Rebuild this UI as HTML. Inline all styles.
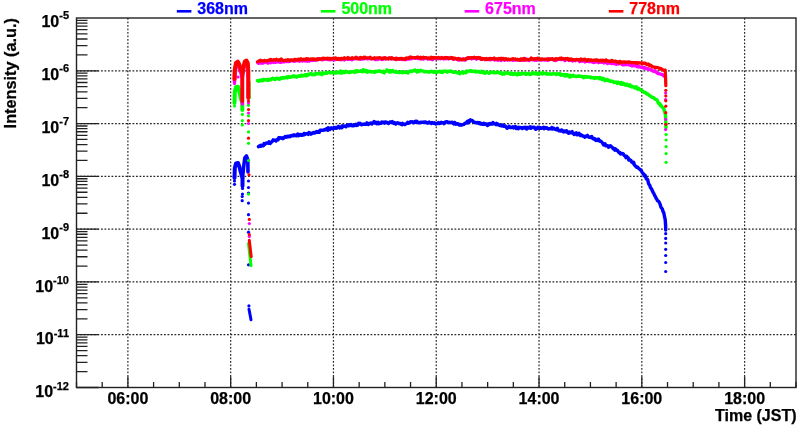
<!DOCTYPE html><html><head><meta charset="utf-8"><style>html,body{margin:0;padding:0;background:#fff;}svg{display:block;will-change:transform;}text{font-family:"Liberation Sans",sans-serif;font-weight:bold;font-size:16px;stroke:#000;stroke-width:.25px;}</style></head><body>
<svg width="800" height="427" viewBox="0 0 800 427">
<rect width="800" height="427" fill="#fff"/>
<path d="M127.89 18.0V387.5M230.68 18.0V387.5M333.46 18.0V387.5M436.25 18.0V387.5M539.04 18.0V387.5M641.82 18.0V387.5M744.61 18.0V387.5M76.5 70.79H796.0M76.5 123.57H796.0M76.5 176.36H796.0M76.5 229.14H796.0M76.5 281.93H796.0M76.5 334.71H796.0" stroke="#000" stroke-width="1.2" stroke-dasharray="1.8 1.7" fill="none" opacity="0.85"/>
<path d="M76.50 387.5V382.00M102.20 387.5V382.00M127.89 387.5V376.50M153.59 387.5V382.00M179.29 387.5V382.00M204.98 387.5V382.00M230.68 387.5V376.50M256.38 387.5V382.00M282.07 387.5V382.00M307.77 387.5V382.00M333.46 387.5V376.50M359.16 387.5V382.00M384.86 387.5V382.00M410.55 387.5V382.00M436.25 387.5V376.50M461.95 387.5V382.00M487.64 387.5V382.00M513.34 387.5V382.00M539.04 387.5V376.50M564.73 387.5V382.00M590.43 387.5V382.00M616.12 387.5V382.00M641.82 387.5V376.50M667.52 387.5V382.00M693.21 387.5V382.00M718.91 387.5V382.00M744.61 387.5V376.50M770.30 387.5V382.00M796.00 387.5V382.00M76.5 387.50H98.50M76.5 371.61H87.50M76.5 362.31H87.50M76.5 355.72H87.50M76.5 350.60H87.50M76.5 346.42H87.50M76.5 342.89H87.50M76.5 339.83H87.50M76.5 337.13H87.50M76.5 334.71H98.50M76.5 318.82H87.50M76.5 309.53H87.50M76.5 302.93H87.50M76.5 297.82H87.50M76.5 293.64H87.50M76.5 290.11H87.50M76.5 287.04H87.50M76.5 284.34H87.50M76.5 281.93H98.50M76.5 266.04H87.50M76.5 256.74H87.50M76.5 250.15H87.50M76.5 245.03H87.50M76.5 240.85H87.50M76.5 237.32H87.50M76.5 234.26H87.50M76.5 231.56H87.50M76.5 229.14H98.50M76.5 213.25H87.50M76.5 203.96H87.50M76.5 197.36H87.50M76.5 192.25H87.50M76.5 188.07H87.50M76.5 184.53H87.50M76.5 181.47H87.50M76.5 178.77H87.50M76.5 176.36H98.50M76.5 160.47H87.50M76.5 151.17H87.50M76.5 144.58H87.50M76.5 139.46H87.50M76.5 135.28H87.50M76.5 131.75H87.50M76.5 128.69H87.50M76.5 125.99H87.50M76.5 123.57H98.50M76.5 107.68H87.50M76.5 98.39H87.50M76.5 91.79H87.50M76.5 86.68H87.50M76.5 82.50H87.50M76.5 78.96H87.50M76.5 75.90H87.50M76.5 73.20H87.50M76.5 70.79H98.50M76.5 54.90H87.50M76.5 45.60H87.50M76.5 39.01H87.50M76.5 33.89H87.50M76.5 29.71H87.50M76.5 26.18H87.50M76.5 23.12H87.50M76.5 20.42H87.50" stroke="#222" stroke-width="1.3" fill="none"/>
<rect x="76.5" y="18.0" width="719.5" height="369.5" stroke="#222" stroke-width="1.4" fill="none"/>
<text x="127.89" y="404" text-anchor="middle">06:00</text>
<text x="230.68" y="404" text-anchor="middle">08:00</text>
<text x="333.46" y="404" text-anchor="middle">10:00</text>
<text x="436.25" y="404" text-anchor="middle">12:00</text>
<text x="539.04" y="404" text-anchor="middle">14:00</text>
<text x="641.82" y="404" text-anchor="middle">16:00</text>
<text x="744.61" y="404" text-anchor="middle">18:00</text>
<text x="796.5" y="420.6" text-anchor="end">Time (JST)</text>
<text x="69" y="26.90" text-anchor="end">10<tspan font-size="11" dy="-7.6">-5</tspan></text>
<text x="69" y="79.83" text-anchor="end">10<tspan font-size="11" dy="-7.6">-6</tspan></text>
<text x="69" y="132.75" text-anchor="end">10<tspan font-size="11" dy="-7.6">-7</tspan></text>
<text x="69" y="185.68" text-anchor="end">10<tspan font-size="11" dy="-7.6">-8</tspan></text>
<text x="69" y="238.60" text-anchor="end">10<tspan font-size="11" dy="-7.6">-9</tspan></text>
<text x="69" y="291.53" text-anchor="end">10<tspan font-size="11" dy="-7.6">-10</tspan></text>
<text x="69" y="344.45" text-anchor="end">10<tspan font-size="11" dy="-7.6">-11</tspan></text>
<text x="69" y="397.38" text-anchor="end">10<tspan font-size="11" dy="-7.6">-12</tspan></text>
<text transform="translate(16.2,18) rotate(-90)" text-anchor="end" style="font-size:16.3px">Intensity (a.u.)</text>
<path d="M176.8 11.3H191.4" stroke="#0000ff" stroke-width="2.6"/>
<text x="197.3" y="14.2" fill="#0000ff" style="stroke:#0000ff">368nm</text>
<path d="M320.9 11.3H335.5" stroke="#00ff00" stroke-width="2.6"/>
<text x="341.4" y="14.2" fill="#00ff00" style="stroke:#00ff00">500nm</text>
<path d="M464.6 11.3H479.20000000000005" stroke="#ff00ff" stroke-width="2.6"/>
<text x="485.1" y="14.2" fill="#ff00ff" style="stroke:#ff00ff">675nm</text>
<path d="M608.8 11.3H623.4" stroke="#ff0000" stroke-width="2.6"/>
<text x="629.3" y="14.2" fill="#ff0000" style="stroke:#ff0000">778nm</text>
<path d="M258.5 146.7 L259.2 145.9 L259.9 146.2 L260.6 145.3 L261.3 146.2 L262.0 145.3 L262.7 145.9 L263.4 145.8 L264.1 143.6 L264.8 144.5 L265.5 143.7 L266.2 143.0 L266.9 143.1 L267.6 143.0 L268.3 143.3 L269.0 141.7 L269.7 143.1 L270.4 143.4 L271.1 142.3 L271.8 141.8 L272.5 141.1 L273.2 139.9 L273.9 140.4 L274.6 140.1 L275.3 140.3 L276.0 141.0 L276.7 139.7 L277.4 139.4 L278.1 139.8 L278.8 137.8 L279.5 137.7 L280.2 138.1 L280.9 137.8 L281.6 138.3 L282.3 137.7 L283.0 138.6 L283.7 138.1 L284.4 137.5 L285.1 136.6 L285.8 137.0 L286.5 137.2 L287.2 136.2 L287.9 136.6 L288.6 136.7 L289.3 136.1 L290.0 136.7 L290.7 136.4 L291.4 135.4 L292.1 135.8 L292.8 135.2 L293.5 135.8 L294.2 134.9 L294.9 135.6 L295.6 135.3 L296.3 135.7 L297.0 135.0 L297.7 134.1 L298.4 135.7 L299.1 134.5 L299.8 135.2 L300.5 134.5 L301.2 134.6 L301.9 135.3 L302.6 134.5 L303.3 135.0 L304.0 133.4 L304.7 134.6 L305.4 133.9 L306.1 133.8 L306.8 133.7 L307.5 133.7 L308.2 134.4 L308.9 132.5 L309.6 133.5 L310.3 133.2 L311.0 134.2 L311.7 133.2 L312.4 133.3 L313.1 132.6 L313.8 133.0 L314.5 133.1 L315.2 132.2 L315.9 132.5 L316.6 131.6 L317.3 132.2 L318.0 132.3 L318.7 131.3 L319.4 132.1 L320.1 130.2 L320.8 130.2 L321.5 130.2 L322.2 130.4 L322.9 130.3 L323.6 130.1 L324.3 129.7 L325.0 130.0 L325.7 129.4 L326.4 128.8 L327.1 128.4 L327.8 130.3 L328.5 127.8 L329.2 128.6 L329.9 129.4 L330.6 128.8 L331.3 127.9 L332.0 128.4 L332.7 128.8 L333.4 128.7 L334.1 127.4 L334.8 128.3 L335.5 127.6 L336.2 128.1 L336.9 128.2 L337.6 127.1 L338.3 126.4 L339.0 127.3 L339.7 127.9 L340.4 127.0 L341.1 126.8 L341.8 127.8 L342.5 125.8 L343.2 126.7 L343.9 126.0 L344.6 126.3 L345.3 126.2 L346.0 126.8 L346.7 125.4 L347.4 125.6 L348.1 124.7 L348.8 125.8 L349.5 125.1 L350.2 125.5 L350.9 124.6 L351.6 125.0 L352.3 125.8 L353.0 125.1 L353.7 125.7 L354.4 125.5 L355.1 125.1 L355.8 124.2 L356.5 125.5 L357.2 124.9 L357.9 125.1 L358.6 123.3 L359.3 123.5 L360.0 123.2 L360.7 123.8 L361.4 124.8 L362.1 124.6 L362.8 124.1 L363.5 124.3 L364.2 124.4 L364.9 123.9 L365.6 124.3 L366.3 124.2 L367.0 122.9 L367.7 124.0 L368.4 124.5 L369.1 123.5 L369.8 123.5 L370.5 123.1 L371.2 123.0 L371.9 124.0 L372.6 123.1 L373.3 122.7 L374.0 121.6 L374.7 123.0 L375.4 122.2 L376.1 122.4 L376.8 123.7 L377.5 123.6 L378.2 122.2 L378.9 123.7 L379.6 123.4 L380.3 122.9 L381.0 123.3 L381.7 122.1 L382.4 122.4 L383.1 122.3 L383.8 122.2 L384.5 123.2 L385.2 121.9 L385.9 122.1 L386.6 122.2 L387.3 123.0 L388.0 122.9 L388.7 123.5 L389.4 122.5 L390.1 121.9 L390.8 122.1 L391.5 122.4 L392.2 121.6 L392.9 122.4 L393.6 123.4 L394.3 122.5 L395.0 123.1 L395.7 124.1 L396.4 123.1 L397.1 123.0 L397.8 122.7 L398.5 123.4 L399.2 123.7 L399.9 123.5 L400.6 123.7 L401.3 124.5 L402.0 124.7 L402.7 123.4 L403.4 124.2 L404.1 124.3 L404.8 124.6 L405.5 124.0 L406.2 123.7 L406.9 123.4 L407.6 122.4 L408.3 123.2 L409.0 122.4 L409.7 122.7 L410.4 121.8 L411.1 122.1 L411.8 121.7 L412.5 121.9 L413.2 122.8 L413.9 122.0 L414.6 122.4 L415.3 121.4 L416.0 122.2 L416.7 121.2 L417.4 122.2 L418.1 122.3 L418.8 122.9 L419.5 122.6 L420.2 122.3 L420.9 122.6 L421.6 122.1 L422.3 122.4 L423.0 122.4 L423.7 122.1 L424.4 121.9 L425.1 122.5 L425.8 122.0 L426.5 122.7 L427.2 123.0 L427.9 123.0 L428.6 122.5 L429.3 122.1 L430.0 122.8 L430.7 122.9 L431.4 123.5 L432.1 122.6 L432.8 122.9 L433.5 123.3 L434.2 122.8 L434.9 123.1 L435.6 124.0 L436.3 123.8 L437.0 123.4 L437.7 123.4 L438.4 122.6 L439.1 123.6 L439.8 123.3 L440.5 123.3 L441.2 122.4 L441.9 122.9 L442.6 122.6 L443.3 122.8 L444.0 123.7 L444.7 123.2 L445.4 121.9 L446.1 122.0 L446.8 121.6 L447.5 121.8 L448.2 122.6 L448.9 122.6 L449.6 122.2 L450.3 122.8 L451.0 122.5 L451.7 122.3 L452.4 122.2 L453.1 122.8 L453.8 123.9 L454.5 122.4 L455.2 123.8 L455.9 124.2 L456.6 123.6 L457.3 124.0 L458.0 123.8 L458.7 124.5 L459.4 125.0 L460.1 124.5 L460.8 125.0 L461.5 125.2 L462.2 124.7 L462.9 124.6 L463.6 124.3 L464.3 124.2 L465.0 123.1 L465.7 123.3 L466.4 122.7 L467.1 121.6 L467.8 123.0 L468.5 120.8 L469.2 120.5 L469.9 121.2 L470.6 119.9 L471.3 120.6 L472.0 120.4 L472.7 121.0 L473.4 121.7 L474.1 122.0 L474.8 122.6 L475.5 122.4 L476.2 122.8 L476.9 122.6 L477.6 122.4 L478.3 123.4 L479.0 122.6 L479.7 122.7 L480.4 124.0 L481.1 123.6 L481.8 123.5 L482.5 124.3 L483.2 124.4 L483.9 123.2 L484.6 124.2 L485.3 123.7 L486.0 124.4 L486.7 124.1 L487.4 125.5 L488.1 124.8 L488.8 123.9 L489.5 124.4 L490.2 123.5 L490.9 124.0 L491.6 124.1 L492.3 124.0 L493.0 122.5 L493.7 123.3 L494.4 123.8 L495.1 123.9 L495.8 124.5 L496.5 123.4 L497.2 124.6 L497.9 124.0 L498.6 124.6 L499.3 125.2 L500.0 125.6 L500.7 125.2 L501.4 125.9 L502.1 125.4 L502.8 125.0 L503.5 126.3 L504.2 126.1 L504.9 125.7 L505.6 126.4 L506.3 127.3 L507.0 128.3 L507.7 127.9 L508.4 127.7 L509.1 126.3 L509.8 127.1 L510.5 127.5 L511.2 127.5 L511.9 127.4 L512.6 126.9 L513.3 127.9 L514.0 127.5 L514.7 126.9 L515.4 126.6 L516.1 128.4 L516.8 127.2 L517.5 128.5 L518.2 128.7 L518.9 127.3 L519.6 128.0 L520.3 127.5 L521.0 127.9 L521.7 127.8 L522.4 128.5 L523.1 127.7 L523.8 127.4 L524.5 128.0 L525.2 127.3 L525.9 127.5 L526.6 129.1 L527.3 127.4 L528.0 127.8 L528.7 128.1 L529.4 127.4 L530.1 126.7 L530.8 128.3 L531.5 127.2 L532.2 127.5 L532.9 127.6 L533.6 127.2 L534.3 127.2 L535.0 128.2 L535.7 129.3 L536.4 128.5 L537.1 128.6 L537.8 127.3 L538.5 127.9 L539.2 127.2 L539.9 128.4 L540.6 127.8 L541.3 128.2 L542.0 128.1 L542.7 127.9 L543.4 127.3 L544.1 128.7 L544.8 127.5 L545.5 127.6 L546.2 128.2 L546.9 127.8 L547.6 128.6 L548.3 129.0 L549.0 128.9 L549.7 128.7 L550.4 128.8 L551.1 128.9 L551.8 127.6 L552.5 128.9 L553.2 128.4 L553.9 128.3 L554.6 129.1 L555.3 129.0 L556.0 129.6 L556.7 129.8 L557.4 128.2 L558.1 129.5 L558.8 130.7 L559.5 130.4 L560.2 131.0 L560.9 130.5 L561.6 129.9 L562.3 130.4 L563.0 131.6 L563.7 131.9 L564.4 131.0 L565.1 131.4 L565.8 131.7 L566.5 130.7 L567.2 131.5 L567.9 132.8 L568.6 133.2 L569.3 132.0 L570.0 132.9 L570.7 132.1 L571.4 132.1 L572.1 131.6 L572.8 133.5 L573.5 133.2 L574.2 134.5 L574.9 133.5 L575.6 133.8 L576.3 132.9 L577.0 134.8 L577.7 134.3 L578.4 134.5 L579.1 133.3 L579.8 135.3 L580.5 135.6 L581.2 134.9 L581.9 135.5 L582.6 135.9 L583.3 136.3 L584.0 136.1 L584.7 137.2 L585.4 136.4 L586.1 136.1 L586.8 136.4 L587.5 135.4 L588.2 136.4 L588.9 137.4 L589.6 137.3 L590.3 136.9 L591.0 137.6 L591.7 136.5 L592.4 137.9 L593.1 138.8 L593.8 139.0 L594.5 138.5 L595.2 139.6 L595.9 140.5 L596.6 139.5 L597.3 140.4 L598.0 139.3 L598.7 139.3 L599.4 141.0 L600.1 140.8 L600.8 141.4 L601.5 141.7 L602.2 142.5 L602.9 143.7 L603.6 144.9 L604.3 144.1 L605.0 143.7 L605.7 145.8 L606.4 145.5 L607.1 145.7 L607.8 145.9 L608.5 147.3 L609.2 146.0 L609.9 146.5 L610.6 145.7 L611.3 146.7 L612.0 147.2 L612.7 148.0 L613.4 148.9 L614.1 148.5 L614.8 150.2 L615.5 148.9 L616.2 149.7 L616.9 150.5 L617.6 150.4 L618.3 151.8 L619.0 152.5 L619.7 152.4 L620.4 153.9 L621.1 153.3 L621.8 153.8 L622.5 153.5 L623.2 153.8 L623.9 155.0 L624.6 155.7 L625.3 156.3 L626.0 157.6 L626.7 156.3 L627.4 157.5 L628.1 157.6 L628.8 159.9 L629.5 159.5 L630.2 160.2 L630.9 160.4 L631.6 162.0 L632.3 161.9 L633.0 163.0 L633.7 162.4 L634.4 165.0 L635.1 165.6 L635.8 166.4 L636.5 167.3 L637.2 167.0 L637.9 167.5 L638.6 168.4 L639.3 168.9 L640.0 169.3 L640.7 170.2 L641.4 170.8 L642.1 172.4 L642.8 173.4 L643.5 173.8 L644.2 175.8 L644.9 175.0 L645.6 176.6 L646.3 178.9 L647.0 179.0 L647.7 179.7 L648.4 183.0 L649.1 184.6 L649.8 185.2 L650.5 187.9 L651.2 188.4 L651.9 189.6 L652.6 191.4 L653.3 192.7 L654.0 193.8 L654.7 195.5 L655.4 196.5 L656.1 198.3 L656.8 199.3 L657.5 200.7 L658.2 201.0 L658.9 201.7 L659.6 203.0 L660.3 204.9 L661.0 207.3 L661.7 208.2 L662.4 209.1 L663.1 211.8 L663.8 212.8 L664.5 216.7 L665.2 219.7 L665.6 225.0 L665.7 230.0" stroke="#0000ff" stroke-width="3.4" fill="none" stroke-linecap="round" stroke-linejoin="round"/>
<path d="M234.5 178.0 L234.8 168.0 L236.0 163.5 L238.0 163.0 L239.5 167.0 L241.0 173.0 L242.5 178.0 L242.5 186.0" stroke="#0000ff" stroke-width="4.0" fill="none" stroke-linecap="round" stroke-linejoin="round"/>
<path d="M242.5 178.0 L243.5 168.0 L244.8 158.0 L246.5 156.0 L247.8 160.0 L248.0 172.0" stroke="#0000ff" stroke-width="3.6" fill="none" stroke-linecap="round" stroke-linejoin="round"/>
<path d="M249.0 309.2 L251.0 319.8" stroke="#0000ff" stroke-width="3.0" fill="none" stroke-linecap="round" stroke-linejoin="round"/>
<circle cx="665.7" cy="233.7" r="1.6" fill="#0000ff"/>
<circle cx="665.7" cy="238.4" r="1.6" fill="#0000ff"/>
<circle cx="665.7" cy="243" r="1.6" fill="#0000ff"/>
<circle cx="665.7" cy="249.3" r="1.6" fill="#0000ff"/>
<circle cx="665.7" cy="255.5" r="1.6" fill="#0000ff"/>
<circle cx="665.7" cy="262.5" r="1.6" fill="#0000ff"/>
<circle cx="665.7" cy="271.5" r="1.6" fill="#0000ff"/>
<circle cx="234.5" cy="181" r="1.6" fill="#0000ff"/>
<circle cx="234.5" cy="184.3" r="1.6" fill="#0000ff"/>
<circle cx="242.5" cy="188.4" r="1.6" fill="#0000ff"/>
<circle cx="242.5" cy="194" r="1.6" fill="#0000ff"/>
<circle cx="242.2" cy="196.5" r="1.6" fill="#0000ff"/>
<circle cx="242.2" cy="200.7" r="1.6" fill="#0000ff"/>
<circle cx="248.5" cy="181" r="1.6" fill="#0000ff"/>
<circle cx="248.5" cy="187.5" r="1.6" fill="#0000ff"/>
<circle cx="248.5" cy="193" r="1.6" fill="#0000ff"/>
<circle cx="248.5" cy="203.1" r="1.6" fill="#0000ff"/>
<circle cx="248.5" cy="214.7" r="1.6" fill="#0000ff"/>
<circle cx="248.5" cy="232.2" r="1.6" fill="#0000ff"/>
<circle cx="248.5" cy="264.8" r="1.6" fill="#0000ff"/>
<circle cx="248.9" cy="305.9" r="1.6" fill="#0000ff"/>
<path d="M257.5 80.6 L258.2 80.8 L258.9 81.3 L259.6 80.3 L260.3 80.5 L261.0 80.7 L261.7 79.8 L262.4 80.8 L263.1 80.4 L263.8 79.4 L264.5 80.0 L265.2 79.7 L265.9 79.8 L266.6 80.0 L267.3 79.5 L268.0 80.4 L268.7 79.5 L269.4 80.1 L270.1 79.5 L270.8 79.7 L271.5 78.7 L272.2 78.7 L272.9 78.3 L273.6 79.0 L274.3 79.1 L275.0 79.5 L275.7 79.0 L276.4 78.3 L277.1 78.2 L277.8 78.5 L278.5 78.6 L279.2 79.3 L279.9 79.1 L280.6 78.1 L281.3 77.7 L282.0 78.3 L282.7 77.6 L283.4 77.4 L284.1 78.1 L284.8 77.7 L285.5 77.7 L286.2 77.6 L286.9 76.9 L287.6 77.9 L288.3 76.8 L289.0 76.9 L289.7 76.8 L290.4 77.3 L291.1 77.0 L291.8 76.9 L292.5 76.2 L293.2 76.7 L293.9 75.8 L294.6 76.5 L295.3 76.6 L296.0 76.2 L296.7 77.2 L297.4 76.4 L298.1 76.4 L298.8 76.0 L299.5 75.8 L300.2 76.2 L300.9 76.2 L301.6 75.1 L302.3 76.0 L303.0 75.6 L303.7 75.8 L304.4 75.4 L305.1 74.6 L305.8 74.7 L306.5 75.9 L307.2 75.0 L307.9 74.2 L308.6 74.9 L309.3 74.3 L310.0 73.8 L310.7 73.6 L311.4 73.9 L312.1 74.7 L312.8 74.7 L313.5 74.4 L314.2 74.6 L314.9 74.7 L315.6 73.4 L316.3 74.1 L317.0 73.7 L317.7 73.5 L318.4 73.7 L319.1 73.8 L319.8 73.6 L320.5 73.1 L321.2 73.7 L321.9 74.7 L322.6 73.2 L323.3 73.0 L324.0 73.5 L324.7 73.4 L325.4 73.2 L326.1 72.5 L326.8 73.3 L327.5 72.6 L328.2 72.3 L328.9 72.6 L329.6 72.6 L330.3 72.9 L331.0 72.7 L331.7 72.4 L332.4 72.8 L333.1 72.6 L333.8 73.0 L334.5 72.1 L335.2 72.1 L335.9 73.1 L336.6 72.1 L337.3 72.6 L338.0 72.6 L338.7 72.3 L339.4 72.3 L340.1 73.0 L340.8 71.1 L341.5 72.6 L342.2 73.0 L342.9 71.9 L343.6 71.7 L344.3 72.0 L345.0 72.5 L345.7 71.2 L346.4 71.8 L347.1 71.9 L347.8 72.2 L348.5 72.2 L349.2 72.6 L349.9 72.0 L350.6 72.2 L351.3 71.9 L352.0 71.7 L352.7 71.9 L353.4 71.9 L354.1 71.3 L354.8 72.4 L355.5 71.5 L356.2 70.8 L356.9 71.8 L357.6 70.8 L358.3 71.5 L359.0 71.2 L359.7 71.3 L360.4 71.2 L361.1 70.8 L361.8 70.9 L362.5 71.8 L363.2 69.7 L363.9 71.0 L364.6 71.2 L365.3 70.6 L366.0 70.4 L366.7 72.1 L367.4 70.9 L368.1 72.1 L368.8 71.5 L369.5 71.4 L370.2 71.5 L370.9 71.7 L371.6 72.0 L372.3 71.7 L373.0 71.7 L373.7 71.8 L374.4 72.3 L375.1 72.1 L375.8 71.2 L376.5 71.1 L377.2 71.6 L377.9 71.2 L378.6 71.1 L379.3 70.8 L380.0 71.2 L380.7 71.6 L381.4 71.8 L382.1 71.4 L382.8 72.3 L383.5 71.4 L384.2 72.9 L384.9 71.7 L385.6 71.4 L386.3 71.0 L387.0 69.9 L387.7 70.9 L388.4 71.0 L389.1 72.0 L389.8 70.6 L390.5 72.0 L391.2 71.1 L391.9 71.7 L392.6 70.5 L393.3 71.6 L394.0 71.6 L394.7 72.1 L395.4 72.0 L396.1 71.3 L396.8 72.4 L397.5 72.3 L398.2 72.1 L398.9 72.5 L399.6 72.6 L400.3 72.1 L401.0 71.6 L401.7 71.7 L402.4 72.7 L403.1 72.5 L403.8 72.2 L404.5 72.0 L405.2 72.4 L405.9 72.4 L406.6 72.3 L407.3 72.1 L408.0 73.1 L408.7 72.0 L409.4 71.4 L410.1 71.0 L410.8 71.0 L411.5 71.6 L412.2 71.3 L412.9 70.8 L413.6 70.7 L414.3 70.5 L415.0 70.1 L415.7 71.2 L416.4 70.9 L417.1 72.0 L417.8 70.4 L418.5 70.8 L419.2 71.4 L419.9 70.8 L420.6 70.3 L421.3 70.5 L422.0 70.9 L422.7 71.1 L423.4 71.1 L424.1 71.7 L424.8 71.8 L425.5 71.7 L426.2 71.7 L426.9 71.5 L427.6 71.8 L428.3 72.1 L429.0 71.8 L429.7 72.1 L430.4 71.6 L431.1 71.2 L431.8 71.4 L432.5 72.0 L433.2 71.6 L433.9 72.3 L434.6 71.6 L435.3 72.0 L436.0 72.3 L436.7 72.6 L437.4 71.7 L438.1 71.9 L438.8 71.9 L439.5 71.3 L440.2 71.9 L440.9 72.2 L441.6 71.3 L442.3 72.5 L443.0 71.4 L443.7 71.3 L444.4 71.3 L445.1 71.1 L445.8 71.4 L446.5 71.2 L447.2 72.1 L447.9 71.5 L448.6 71.5 L449.3 71.3 L450.0 70.9 L450.7 71.3 L451.4 71.1 L452.1 71.9 L452.8 71.6 L453.5 72.3 L454.2 72.0 L454.9 72.3 L455.6 72.2 L456.3 72.3 L457.0 72.6 L457.7 73.0 L458.4 72.3 L459.1 72.9 L459.8 73.8 L460.5 72.7 L461.2 72.6 L461.9 72.4 L462.6 71.9 L463.3 73.1 L464.0 72.4 L464.7 72.3 L465.4 72.7 L466.1 72.7 L466.8 71.0 L467.5 71.6 L468.2 71.3 L468.9 71.0 L469.6 70.9 L470.3 70.6 L471.0 71.4 L471.7 71.0 L472.4 71.1 L473.1 71.6 L473.8 71.6 L474.5 71.4 L475.2 71.1 L475.9 72.0 L476.6 71.6 L477.3 71.5 L478.0 71.4 L478.7 72.0 L479.4 71.6 L480.1 72.3 L480.8 72.3 L481.5 71.2 L482.2 72.2 L482.9 72.7 L483.6 72.5 L484.3 72.1 L485.0 73.3 L485.7 72.3 L486.4 72.1 L487.1 72.2 L487.8 72.7 L488.5 73.1 L489.2 73.3 L489.9 72.8 L490.6 72.2 L491.3 72.3 L492.0 72.2 L492.7 72.6 L493.4 71.8 L494.1 72.5 L494.8 72.9 L495.5 72.6 L496.2 72.8 L496.9 72.1 L497.6 72.0 L498.3 72.2 L499.0 73.0 L499.7 73.0 L500.4 72.5 L501.1 73.4 L501.8 73.1 L502.5 74.2 L503.2 73.8 L503.9 73.4 L504.6 74.0 L505.3 73.0 L506.0 72.9 L506.7 72.6 L507.4 73.5 L508.1 73.4 L508.8 73.4 L509.5 73.3 L510.2 74.1 L510.9 73.3 L511.6 73.2 L512.3 74.3 L513.0 74.6 L513.7 74.2 L514.4 73.3 L515.1 73.7 L515.8 74.3 L516.5 74.1 L517.2 74.8 L517.9 73.3 L518.6 74.4 L519.3 73.5 L520.0 74.2 L520.7 73.6 L521.4 74.2 L522.1 73.4 L522.8 73.3 L523.5 73.4 L524.2 73.6 L524.9 73.4 L525.6 74.3 L526.3 74.4 L527.0 73.9 L527.7 73.4 L528.4 73.8 L529.1 73.8 L529.8 74.6 L530.5 74.2 L531.2 74.0 L531.9 73.5 L532.6 72.6 L533.3 73.3 L534.0 73.0 L534.7 73.8 L535.4 73.7 L536.1 73.3 L536.8 73.4 L537.5 74.4 L538.2 73.1 L538.9 73.3 L539.6 73.6 L540.3 73.3 L541.0 73.3 L541.7 73.8 L542.4 74.1 L543.1 72.5 L543.8 73.3 L544.5 73.4 L545.2 73.5 L545.9 73.7 L546.6 73.6 L547.3 74.2 L548.0 73.8 L548.7 74.1 L549.4 74.0 L550.1 74.1 L550.8 73.9 L551.5 74.3 L552.2 73.8 L552.9 73.9 L553.6 73.9 L554.3 73.7 L555.0 74.0 L555.7 74.0 L556.4 74.5 L557.1 73.9 L557.8 73.7 L558.5 74.3 L559.2 74.4 L559.9 73.5 L560.6 75.2 L561.3 74.4 L562.0 74.5 L562.7 75.1 L563.4 74.7 L564.1 74.6 L564.8 76.0 L565.5 74.5 L566.2 75.0 L566.9 75.7 L567.6 74.8 L568.3 75.4 L569.0 75.9 L569.7 77.0 L570.4 75.3 L571.1 76.0 L571.8 76.3 L572.5 75.9 L573.2 75.3 L573.9 76.2 L574.6 75.9 L575.3 76.1 L576.0 76.6 L576.7 76.5 L577.4 76.2 L578.1 76.3 L578.8 75.8 L579.5 76.2 L580.2 76.4 L580.9 76.4 L581.6 76.6 L582.3 76.4 L583.0 77.3 L583.7 77.7 L584.4 76.5 L585.1 76.8 L585.8 76.4 L586.5 77.3 L587.2 77.0 L587.9 76.8 L588.6 77.0 L589.3 77.3 L590.0 76.9 L590.7 77.7 L591.4 77.2 L592.1 77.9 L592.8 77.6 L593.5 78.0 L594.2 77.7 L594.9 78.4 L595.6 77.5 L596.3 78.1 L597.0 77.8 L597.7 77.9 L598.4 77.8 L599.1 78.5 L599.8 77.5 L600.5 78.7 L601.2 78.2 L601.9 79.5 L602.6 78.2 L603.3 78.8 L604.0 78.9 L604.7 80.7 L605.4 79.6 L606.1 80.3 L606.8 80.2 L607.5 79.5 L608.2 80.2 L608.9 80.8 L609.6 80.7 L610.3 81.4 L611.0 81.0 L611.7 81.3 L612.4 81.2 L613.1 81.6 L613.8 82.5 L614.5 82.1 L615.2 82.3 L615.9 82.2 L616.6 82.3 L617.3 83.5 L618.0 82.2 L618.7 82.4 L619.4 82.9 L620.1 83.0 L620.8 84.2 L621.5 82.6 L622.2 84.1 L622.9 84.3 L623.6 83.4 L624.3 83.9 L625.0 84.5 L625.7 85.2 L626.4 84.2 L627.1 84.2 L627.8 85.5 L628.5 85.8 L629.2 85.3 L629.9 84.7 L630.6 86.6 L631.3 86.1 L632.0 87.1 L632.7 86.7 L633.4 86.9 L634.1 87.0 L634.8 88.0 L635.5 88.0 L636.2 86.8 L636.9 87.5 L637.6 89.2 L638.3 88.6 L639.0 88.5 L639.7 89.4 L640.4 89.9 L641.1 90.2 L641.8 90.6 L642.5 91.1 L643.2 91.5 L643.9 92.2 L644.6 92.1 L645.3 92.6 L646.0 93.0 L646.7 94.0 L647.4 94.0 L648.1 94.2 L648.8 95.0 L649.5 95.4 L650.2 96.1 L650.9 96.3 L651.6 97.2 L652.3 97.4 L653.0 97.4 L653.7 97.6 L654.4 98.6 L655.1 99.2 L655.8 99.4 L656.5 99.6 L657.2 100.2 L657.9 102.1 L658.6 103.2 L659.3 104.2 L660.0 103.8 L660.7 105.9 L661.4 105.8 L662.1 107.0 L662.8 107.7 L663.5 108.1 L665.3 113.7 L665.8 122.0 L666.0 128.0" stroke="#00ff00" stroke-width="3.4" fill="none" stroke-linecap="round" stroke-linejoin="round"/>
<path d="M234.5 103.0 L234.8 92.0 L236.0 87.0 L238.0 86.8 L239.5 92.0 L241.0 99.0 L242.3 103.0 L242.3 110.0" stroke="#00ff00" stroke-width="4.0" fill="none" stroke-linecap="round" stroke-linejoin="round"/>
<path d="M249.3 82.0 L249.5 98.0" stroke="#00ff00" stroke-width="2.5" fill="none" stroke-linecap="round" stroke-linejoin="round"/>
<path d="M248.5 243.4 L251.0 265.6" stroke="#00ff00" stroke-width="3.0" fill="none" stroke-linecap="round" stroke-linejoin="round"/>
<circle cx="666.1" cy="134.6" r="1.6" fill="#00ff00"/>
<circle cx="666.1" cy="140" r="1.6" fill="#00ff00"/>
<circle cx="666.1" cy="146.6" r="1.6" fill="#00ff00"/>
<circle cx="666.1" cy="153.6" r="1.6" fill="#00ff00"/>
<circle cx="666.1" cy="162.3" r="1.6" fill="#00ff00"/>
<circle cx="234.5" cy="106" r="1.6" fill="#00ff00"/>
<circle cx="242.3" cy="114.4" r="1.6" fill="#00ff00"/>
<circle cx="242.3" cy="120.7" r="1.6" fill="#00ff00"/>
<circle cx="242.3" cy="124.9" r="1.6" fill="#00ff00"/>
<circle cx="248.5" cy="105.2" r="1.6" fill="#00ff00"/>
<circle cx="248.5" cy="115.8" r="1.6" fill="#00ff00"/>
<circle cx="248.5" cy="131.9" r="1.6" fill="#00ff00"/>
<circle cx="248.5" cy="143.3" r="1.6" fill="#00ff00"/>
<circle cx="248.5" cy="160.5" r="1.6" fill="#00ff00"/>
<circle cx="248.5" cy="194.1" r="1.6" fill="#00ff00"/>
<path d="M257.5 62.4 L258.2 63.2 L258.9 63.4 L259.6 62.4 L260.3 61.9 L261.0 63.2 L261.7 63.2 L262.4 63.0 L263.1 63.1 L263.8 62.3 L264.5 62.4 L265.2 61.8 L265.9 61.8 L266.6 62.6 L267.3 61.9 L268.0 63.2 L268.7 62.3 L269.4 61.9 L270.1 62.5 L270.8 62.9 L271.5 62.3 L272.2 61.5 L272.9 62.2 L273.6 62.5 L274.3 61.6 L275.0 61.5 L275.7 62.4 L276.4 62.1 L277.1 61.5 L277.8 61.9 L278.5 61.8 L279.2 62.2 L279.9 62.1 L280.6 62.5 L281.3 62.2 L282.0 61.3 L282.7 61.8 L283.4 61.9 L284.1 61.7 L284.8 61.8 L285.5 61.0 L286.2 60.8 L286.9 61.5 L287.6 60.8 L288.3 60.4 L289.0 61.7 L289.7 61.1 L290.4 61.1 L291.1 60.6 L291.8 60.5 L292.5 60.6 L293.2 61.0 L293.9 61.3 L294.6 60.1 L295.3 61.2 L296.0 60.2 L296.7 60.0 L297.4 60.8 L298.1 60.5 L298.8 59.9 L299.5 61.3 L300.2 60.4 L300.9 60.7 L301.6 60.5 L302.3 61.1 L303.0 60.2 L303.7 60.7 L304.4 60.1 L305.1 61.0 L305.8 60.3 L306.5 60.5 L307.2 61.3 L307.9 60.5 L308.6 60.3 L309.3 61.0 L310.0 60.1 L310.7 59.6 L311.4 60.3 L312.1 59.4 L312.8 60.4 L313.5 60.5 L314.2 59.7 L314.9 59.7 L315.6 60.2 L316.3 60.0 L317.0 59.3 L317.7 59.9 L318.4 58.7 L319.1 59.2 L319.8 59.1 L320.5 59.4 L321.2 59.6 L321.9 59.0 L322.6 59.9 L323.3 59.5 L324.0 59.1 L324.7 58.8 L325.4 59.0 L326.1 59.4 L326.8 58.9 L327.5 59.4 L328.2 59.7 L328.9 59.6 L329.6 59.9 L330.3 59.1 L331.0 58.8 L331.7 59.7 L332.4 59.6 L333.1 59.8 L333.8 59.5 L334.5 59.9 L335.2 59.7 L335.9 59.5 L336.6 59.5 L337.3 59.5 L338.0 59.4 L338.7 59.4 L339.4 59.6 L340.1 58.9 L340.8 59.8 L341.5 59.1 L342.2 59.6 L342.9 59.2 L343.6 59.2 L344.3 60.1 L345.0 58.9 L345.7 58.4 L346.4 58.5 L347.1 58.6 L347.8 59.5 L348.5 58.9 L349.2 59.3 L349.9 58.8 L350.6 59.3 L351.3 59.4 L352.0 59.8 L352.7 58.7 L353.4 59.1 L354.1 58.9 L354.8 58.3 L355.5 58.9 L356.2 58.6 L356.9 57.8 L357.6 58.9 L358.3 58.9 L359.0 58.4 L359.7 58.2 L360.4 59.3 L361.1 58.8 L361.8 59.2 L362.5 59.2 L363.2 58.5 L363.9 59.0 L364.6 58.5 L365.3 58.4 L366.0 58.4 L366.7 58.5 L367.4 59.0 L368.1 58.8 L368.8 58.6 L369.5 58.7 L370.2 58.9 L370.9 58.4 L371.6 58.5 L372.3 58.7 L373.0 58.4 L373.7 58.7 L374.4 58.5 L375.1 59.7 L375.8 59.6 L376.5 59.1 L377.2 58.8 L377.9 59.6 L378.6 58.7 L379.3 58.5 L380.0 58.8 L380.7 58.8 L381.4 59.3 L382.1 58.7 L382.8 59.5 L383.5 58.2 L384.2 58.8 L384.9 58.0 L385.6 59.1 L386.3 58.3 L387.0 58.3 L387.7 58.7 L388.4 58.8 L389.1 58.0 L389.8 58.4 L390.5 58.2 L391.2 58.9 L391.9 58.9 L392.6 58.8 L393.3 58.7 L394.0 58.7 L394.7 58.8 L395.4 59.4 L396.1 59.7 L396.8 58.3 L397.5 59.1 L398.2 58.9 L398.9 59.2 L399.6 58.7 L400.3 59.2 L401.0 58.9 L401.7 59.6 L402.4 59.5 L403.1 59.5 L403.8 59.6 L404.5 59.3 L405.2 58.8 L405.9 59.6 L406.6 59.1 L407.3 58.9 L408.0 59.2 L408.7 59.2 L409.4 57.9 L410.1 58.2 L410.8 58.9 L411.5 58.8 L412.2 57.9 L412.9 58.0 L413.6 58.0 L414.3 58.1 L415.0 57.6 L415.7 58.1 L416.4 57.4 L417.1 57.6 L417.8 58.6 L418.5 58.1 L419.2 58.3 L419.9 58.9 L420.6 59.0 L421.3 58.6 L422.0 58.6 L422.7 58.3 L423.4 59.2 L424.1 58.5 L424.8 57.6 L425.5 58.1 L426.2 58.4 L426.9 58.4 L427.6 59.1 L428.3 59.2 L429.0 58.5 L429.7 58.8 L430.4 58.4 L431.1 59.0 L431.8 58.8 L432.5 59.8 L433.2 58.7 L433.9 57.7 L434.6 58.3 L435.3 58.6 L436.0 58.1 L436.7 58.3 L437.4 58.5 L438.1 58.8 L438.8 58.5 L439.5 58.0 L440.2 58.8 L440.9 58.4 L441.6 58.5 L442.3 58.2 L443.0 58.5 L443.7 59.0 L444.4 57.9 L445.1 58.5 L445.8 58.9 L446.5 58.4 L447.2 58.6 L447.9 58.0 L448.6 58.8 L449.3 58.7 L450.0 58.2 L450.7 57.4 L451.4 57.7 L452.1 58.7 L452.8 59.1 L453.5 58.6 L454.2 59.1 L454.9 58.4 L455.6 58.8 L456.3 59.0 L457.0 59.5 L457.7 58.9 L458.4 60.1 L459.1 60.2 L459.8 59.3 L460.5 59.1 L461.2 59.7 L461.9 59.4 L462.6 58.9 L463.3 59.9 L464.0 59.6 L464.7 59.3 L465.4 60.0 L466.1 58.7 L466.8 58.2 L467.5 58.4 L468.2 57.8 L468.9 57.9 L469.6 58.4 L470.3 58.2 L471.0 58.2 L471.7 59.0 L472.4 58.5 L473.1 58.4 L473.8 58.3 L474.5 58.3 L475.2 58.7 L475.9 58.3 L476.6 59.2 L477.3 58.0 L478.0 58.3 L478.7 57.9 L479.4 58.4 L480.1 58.9 L480.8 59.3 L481.5 58.5 L482.2 59.0 L482.9 58.8 L483.6 58.8 L484.3 59.0 L485.0 59.7 L485.7 59.0 L486.4 59.7 L487.1 59.6 L487.8 59.0 L488.5 58.8 L489.2 58.6 L489.9 59.8 L490.6 58.6 L491.3 59.7 L492.0 59.4 L492.7 58.9 L493.4 58.7 L494.1 59.6 L494.8 60.0 L495.5 59.0 L496.2 59.4 L496.9 59.9 L497.6 59.6 L498.3 60.4 L499.0 59.2 L499.7 59.7 L500.4 59.1 L501.1 60.5 L501.8 59.3 L502.5 58.9 L503.2 59.6 L503.9 59.6 L504.6 60.3 L505.3 59.4 L506.0 59.4 L506.7 59.7 L507.4 60.1 L508.1 59.6 L508.8 60.0 L509.5 60.0 L510.2 59.8 L510.9 60.0 L511.6 59.9 L512.3 59.6 L513.0 60.4 L513.7 59.3 L514.4 60.1 L515.1 60.1 L515.8 59.9 L516.5 59.5 L517.2 59.8 L517.9 60.2 L518.6 60.2 L519.3 60.0 L520.0 60.3 L520.7 59.6 L521.4 60.0 L522.1 59.3 L522.8 60.1 L523.5 59.9 L524.2 59.7 L524.9 60.3 L525.6 60.1 L526.3 58.8 L527.0 59.8 L527.7 59.3 L528.4 60.1 L529.1 60.6 L529.8 59.3 L530.5 59.5 L531.2 59.3 L531.9 59.7 L532.6 59.9 L533.3 60.0 L534.0 59.3 L534.7 60.4 L535.4 59.3 L536.1 59.9 L536.8 60.3 L537.5 60.0 L538.2 59.4 L538.9 59.4 L539.6 59.5 L540.3 59.7 L541.0 60.2 L541.7 59.1 L542.4 59.9 L543.1 59.9 L543.8 59.8 L544.5 59.8 L545.2 60.3 L545.9 59.8 L546.6 59.9 L547.3 59.9 L548.0 60.4 L548.7 58.7 L549.4 59.9 L550.1 59.3 L550.8 59.3 L551.5 59.1 L552.2 59.0 L552.9 59.7 L553.6 59.5 L554.3 60.2 L555.0 59.5 L555.7 60.5 L556.4 60.1 L557.1 59.9 L557.8 59.5 L558.5 59.5 L559.2 59.4 L559.9 59.4 L560.6 59.6 L561.3 59.6 L562.0 59.1 L562.7 59.5 L563.4 59.4 L564.1 59.9 L564.8 60.6 L565.5 60.1 L566.2 59.9 L566.9 59.4 L567.6 59.5 L568.3 59.5 L569.0 60.5 L569.7 59.9 L570.4 60.4 L571.1 60.2 L571.8 60.4 L572.5 61.0 L573.2 60.3 L573.9 60.3 L574.6 60.1 L575.3 60.7 L576.0 59.9 L576.7 59.8 L577.4 59.8 L578.1 59.9 L578.8 60.7 L579.5 61.7 L580.2 60.4 L580.9 61.3 L581.6 61.0 L582.3 60.7 L583.0 61.1 L583.7 61.1 L584.4 61.0 L585.1 62.0 L585.8 60.4 L586.5 61.4 L587.2 61.4 L587.9 61.1 L588.6 61.6 L589.3 61.9 L590.0 61.6 L590.7 61.7 L591.4 61.8 L592.1 60.6 L592.8 62.3 L593.5 62.6 L594.2 62.2 L594.9 62.3 L595.6 61.4 L596.3 61.8 L597.0 61.6 L597.7 62.0 L598.4 62.7 L599.1 62.1 L599.8 62.4 L600.5 61.8 L601.2 62.3 L601.9 62.4 L602.6 62.1 L603.3 62.1 L604.0 63.0 L604.7 62.0 L605.4 62.1 L606.1 62.2 L606.8 63.0 L607.5 63.6 L608.2 62.9 L608.9 62.5 L609.6 62.6 L610.3 63.3 L611.0 62.6 L611.7 63.6 L612.4 63.7 L613.1 63.2 L613.8 63.5 L614.5 63.7 L615.2 64.0 L615.9 63.2 L616.6 64.3 L617.3 63.7 L618.0 63.6 L618.7 64.0 L619.4 63.8 L620.1 63.4 L620.8 63.2 L621.5 63.5 L622.2 64.6 L622.9 65.0 L623.6 64.6 L624.3 64.9 L625.0 64.3 L625.7 64.5 L626.4 64.7 L627.1 64.3 L627.8 64.3 L628.5 64.9 L629.2 64.9 L629.9 64.7 L630.6 65.5 L631.3 65.4 L632.0 66.0 L632.7 65.6 L633.4 65.6 L634.1 65.7 L634.8 65.8 L635.5 65.7 L636.2 65.9 L636.9 66.5 L637.6 66.8 L638.3 67.1 L639.0 66.1 L639.7 66.8 L640.4 67.0 L641.1 67.4 L641.8 67.2 L642.5 67.4 L643.2 68.1 L643.9 67.9 L644.6 67.4 L645.3 68.6 L646.0 68.7 L646.7 68.2 L647.4 69.0 L648.1 68.7 L648.8 69.7 L649.5 69.3 L650.2 69.4 L650.9 69.9 L651.6 70.0 L652.3 70.7 L653.0 71.0 L653.7 71.4 L654.4 71.4 L655.1 70.6 L655.8 72.2 L656.5 71.9 L657.2 73.0 L657.9 73.7 L658.6 73.5 L659.3 73.5 L660.0 74.0 L660.7 74.3 L661.4 74.3 L662.1 74.6 L662.8 74.8 L663.5 75.8 L665.2 77.0" stroke="#ff00ff" stroke-width="3.2" fill="none" stroke-linecap="round" stroke-linejoin="round"/>
<path d="M234.5 82.0 L234.8 72.0 L236.0 65.0 L238.0 64.5 L239.5 69.0 L241.0 73.0 L242.3 78.0 L242.3 104.0" stroke="#ff00ff" stroke-width="3.6" fill="none" stroke-linecap="round" stroke-linejoin="round"/>
<path d="M242.3 78.0 L243.5 70.0 L244.8 63.0 L246.5 62.5 L247.8 66.0 L248.3 80.0 L248.3 97.0" stroke="#ff00ff" stroke-width="3.6" fill="none" stroke-linecap="round" stroke-linejoin="round"/>
<circle cx="665.6" cy="93" r="1.6" fill="#ff00ff"/>
<circle cx="665.6" cy="99.6" r="1.6" fill="#ff00ff"/>
<circle cx="665.6" cy="119.3" r="1.6" fill="#ff00ff"/>
<circle cx="665.6" cy="129.6" r="1.6" fill="#ff00ff"/>
<circle cx="234.5" cy="83.6" r="1.6" fill="#ff00ff"/>
<circle cx="238" cy="77" r="1.6" fill="#ff00ff"/>
<circle cx="248.5" cy="103" r="1.6" fill="#ff00ff"/>
<circle cx="248.5" cy="113" r="1.6" fill="#ff00ff"/>
<circle cx="248.5" cy="123.5" r="1.6" fill="#ff00ff"/>
<circle cx="249.3" cy="223.5" r="1.6" fill="#ff00ff"/>
<circle cx="249.3" cy="236.4" r="1.6" fill="#ff00ff"/>
<path d="M257.5 61.7 L258.2 61.5 L258.9 60.8 L259.6 60.7 L260.3 60.2 L261.0 60.5 L261.7 61.0 L262.4 60.9 L263.1 60.9 L263.8 61.2 L264.5 60.4 L265.2 60.6 L265.9 61.0 L266.6 60.9 L267.3 61.0 L268.0 60.6 L268.7 60.2 L269.4 60.4 L270.1 59.6 L270.8 59.4 L271.5 60.2 L272.2 60.1 L272.9 60.3 L273.6 59.6 L274.3 60.0 L275.0 59.9 L275.7 59.8 L276.4 59.2 L277.1 59.8 L277.8 60.4 L278.5 60.2 L279.2 59.7 L279.9 60.0 L280.6 60.3 L281.3 58.9 L282.0 60.1 L282.7 60.3 L283.4 60.3 L284.1 60.7 L284.8 60.5 L285.5 60.0 L286.2 60.0 L286.9 60.3 L287.6 59.6 L288.3 59.8 L289.0 60.3 L289.7 60.6 L290.4 59.8 L291.1 60.0 L291.8 59.9 L292.5 60.3 L293.2 59.9 L293.9 60.3 L294.6 59.3 L295.3 59.6 L296.0 59.6 L296.7 60.1 L297.4 60.1 L298.1 59.0 L298.8 59.2 L299.5 59.7 L300.2 59.1 L300.9 58.7 L301.6 59.7 L302.3 59.5 L303.0 59.6 L303.7 59.1 L304.4 59.7 L305.1 59.2 L305.8 59.5 L306.5 58.6 L307.2 58.7 L307.9 59.2 L308.6 58.9 L309.3 59.5 L310.0 59.3 L310.7 58.8 L311.4 59.2 L312.1 58.9 L312.8 59.4 L313.5 58.9 L314.2 58.9 L314.9 59.4 L315.6 59.8 L316.3 59.7 L317.0 58.8 L317.7 59.0 L318.4 59.5 L319.1 58.9 L319.8 58.6 L320.5 59.1 L321.2 59.2 L321.9 58.6 L322.6 58.3 L323.3 58.2 L324.0 59.1 L324.7 58.3 L325.4 58.4 L326.1 58.5 L326.8 58.6 L327.5 58.2 L328.2 58.8 L328.9 58.3 L329.6 58.5 L330.3 58.3 L331.0 59.2 L331.7 58.5 L332.4 58.3 L333.1 58.5 L333.8 58.6 L334.5 58.8 L335.2 57.9 L335.9 58.1 L336.6 58.3 L337.3 59.4 L338.0 58.8 L338.7 58.4 L339.4 58.7 L340.1 59.4 L340.8 58.4 L341.5 58.4 L342.2 58.8 L342.9 58.4 L343.6 58.4 L344.3 57.8 L345.0 58.9 L345.7 58.8 L346.4 58.5 L347.1 58.4 L347.8 57.5 L348.5 58.5 L349.2 58.2 L349.9 58.5 L350.6 58.7 L351.3 58.3 L352.0 57.7 L352.7 58.6 L353.4 58.0 L354.1 58.1 L354.8 58.0 L355.5 58.1 L356.2 57.2 L356.9 58.6 L357.6 58.1 L358.3 58.5 L359.0 58.9 L359.7 58.2 L360.4 57.5 L361.1 57.9 L361.8 57.7 L362.5 57.9 L363.2 58.1 L363.9 57.2 L364.6 58.2 L365.3 57.3 L366.0 58.0 L366.7 58.0 L367.4 57.9 L368.1 57.9 L368.8 57.9 L369.5 58.0 L370.2 57.3 L370.9 58.0 L371.6 58.8 L372.3 58.7 L373.0 58.4 L373.7 58.2 L374.4 57.7 L375.1 58.6 L375.8 58.1 L376.5 58.0 L377.2 57.9 L377.9 58.0 L378.6 57.8 L379.3 58.0 L380.0 57.6 L380.7 57.9 L381.4 59.0 L382.1 58.2 L382.8 58.0 L383.5 58.4 L384.2 58.4 L384.9 57.7 L385.6 58.1 L386.3 58.7 L387.0 58.4 L387.7 58.5 L388.4 59.0 L389.1 58.0 L389.8 58.3 L390.5 58.1 L391.2 58.9 L391.9 57.6 L392.6 58.3 L393.3 58.4 L394.0 58.9 L394.7 58.9 L395.4 59.4 L396.1 58.1 L396.8 59.1 L397.5 58.7 L398.2 58.6 L398.9 59.2 L399.6 58.9 L400.3 58.3 L401.0 58.8 L401.7 58.4 L402.4 58.6 L403.1 58.9 L403.8 59.0 L404.5 59.6 L405.2 58.6 L405.9 58.1 L406.6 58.3 L407.3 58.0 L408.0 57.8 L408.7 58.4 L409.4 57.6 L410.1 56.9 L410.8 57.7 L411.5 57.2 L412.2 57.5 L412.9 57.5 L413.6 57.7 L414.3 57.5 L415.0 58.1 L415.7 57.6 L416.4 57.6 L417.1 57.6 L417.8 56.9 L418.5 57.5 L419.2 57.6 L419.9 58.0 L420.6 57.3 L421.3 58.6 L422.0 58.0 L422.7 57.5 L423.4 57.1 L424.1 57.7 L424.8 57.8 L425.5 57.6 L426.2 58.0 L426.9 57.8 L427.6 58.4 L428.3 57.8 L429.0 58.0 L429.7 58.4 L430.4 58.9 L431.1 57.2 L431.8 57.4 L432.5 57.5 L433.2 58.2 L433.9 57.5 L434.6 57.9 L435.3 58.2 L436.0 57.7 L436.7 57.8 L437.4 58.0 L438.1 57.4 L438.8 57.6 L439.5 58.1 L440.2 58.3 L440.9 58.1 L441.6 57.4 L442.3 57.8 L443.0 58.4 L443.7 58.1 L444.4 57.9 L445.1 57.5 L445.8 58.1 L446.5 57.6 L447.2 57.6 L447.9 57.7 L448.6 58.6 L449.3 58.3 L450.0 58.3 L450.7 57.6 L451.4 58.2 L452.1 57.6 L452.8 57.8 L453.5 59.1 L454.2 58.5 L454.9 58.2 L455.6 58.5 L456.3 58.8 L457.0 59.4 L457.7 58.8 L458.4 58.3 L459.1 58.8 L459.8 59.1 L460.5 59.2 L461.2 59.8 L461.9 59.5 L462.6 59.8 L463.3 58.9 L464.0 59.4 L464.7 59.7 L465.4 58.9 L466.1 58.6 L466.8 58.3 L467.5 58.8 L468.2 57.5 L468.9 57.7 L469.6 57.9 L470.3 58.0 L471.0 57.5 L471.7 57.8 L472.4 57.6 L473.1 57.7 L473.8 57.6 L474.5 57.2 L475.2 57.7 L475.9 58.2 L476.6 57.5 L477.3 57.7 L478.0 58.2 L478.7 57.5 L479.4 58.1 L480.1 57.6 L480.8 58.7 L481.5 59.4 L482.2 59.4 L482.9 58.5 L483.6 59.0 L484.3 58.8 L485.0 58.7 L485.7 59.4 L486.4 58.5 L487.1 59.4 L487.8 58.9 L488.5 59.5 L489.2 59.0 L489.9 58.4 L490.6 58.6 L491.3 58.9 L492.0 58.6 L492.7 58.8 L493.4 58.6 L494.1 58.0 L494.8 59.1 L495.5 59.3 L496.2 59.0 L496.9 58.8 L497.6 59.1 L498.3 58.5 L499.0 58.4 L499.7 58.7 L500.4 59.3 L501.1 58.3 L501.8 59.3 L502.5 58.5 L503.2 58.3 L503.9 59.4 L504.6 59.0 L505.3 58.5 L506.0 58.9 L506.7 59.5 L507.4 59.6 L508.1 59.0 L508.8 59.5 L509.5 59.7 L510.2 59.2 L510.9 59.4 L511.6 59.3 L512.3 58.8 L513.0 58.7 L513.7 59.0 L514.4 59.2 L515.1 58.9 L515.8 59.0 L516.5 59.7 L517.2 59.2 L517.9 59.5 L518.6 59.8 L519.3 59.7 L520.0 60.3 L520.7 59.0 L521.4 59.7 L522.1 59.0 L522.8 59.8 L523.5 59.8 L524.2 58.3 L524.9 58.8 L525.6 59.6 L526.3 59.8 L527.0 59.7 L527.7 59.5 L528.4 59.6 L529.1 59.5 L529.8 59.1 L530.5 59.5 L531.2 58.0 L531.9 59.2 L532.6 58.6 L533.3 59.4 L534.0 59.0 L534.7 58.7 L535.4 59.1 L536.1 58.6 L536.8 58.6 L537.5 58.2 L538.2 59.0 L538.9 59.3 L539.6 59.4 L540.3 58.9 L541.0 59.4 L541.7 59.0 L542.4 58.8 L543.1 59.2 L543.8 59.5 L544.5 59.0 L545.2 59.0 L545.9 59.1 L546.6 59.0 L547.3 58.8 L548.0 59.5 L548.7 59.0 L549.4 59.3 L550.1 58.9 L550.8 59.1 L551.5 59.1 L552.2 58.7 L552.9 59.7 L553.6 59.1 L554.3 59.8 L555.0 59.4 L555.7 58.6 L556.4 58.8 L557.1 59.1 L557.8 58.9 L558.5 58.9 L559.2 58.8 L559.9 58.1 L560.6 58.7 L561.3 58.0 L562.0 59.1 L562.7 58.6 L563.4 58.7 L564.1 59.0 L564.8 59.2 L565.5 58.5 L566.2 58.5 L566.9 58.9 L567.6 58.5 L568.3 59.1 L569.0 60.0 L569.7 59.0 L570.4 59.6 L571.1 58.9 L571.8 59.6 L572.5 59.4 L573.2 59.5 L573.9 59.7 L574.6 60.2 L575.3 59.7 L576.0 59.6 L576.7 59.3 L577.4 59.8 L578.1 59.5 L578.8 59.8 L579.5 59.5 L580.2 60.2 L580.9 58.9 L581.6 59.5 L582.3 60.0 L583.0 59.6 L583.7 59.4 L584.4 59.6 L585.1 59.2 L585.8 59.9 L586.5 60.9 L587.2 60.5 L587.9 59.6 L588.6 59.7 L589.3 59.9 L590.0 60.3 L590.7 59.8 L591.4 59.8 L592.1 60.6 L592.8 60.7 L593.5 60.4 L594.2 60.0 L594.9 60.0 L595.6 60.3 L596.3 59.6 L597.0 60.7 L597.7 60.1 L598.4 60.5 L599.1 61.2 L599.8 61.0 L600.5 60.1 L601.2 61.0 L601.9 61.2 L602.6 60.2 L603.3 60.3 L604.0 60.7 L604.7 60.3 L605.4 61.4 L606.1 60.0 L606.8 60.4 L607.5 60.8 L608.2 60.9 L608.9 61.2 L609.6 61.3 L610.3 61.2 L611.0 61.7 L611.7 60.3 L612.4 61.2 L613.1 61.0 L613.8 61.4 L614.5 61.5 L615.2 61.1 L615.9 61.3 L616.6 62.0 L617.3 62.0 L618.0 61.7 L618.7 62.8 L619.4 62.9 L620.1 61.3 L620.8 61.9 L621.5 62.8 L622.2 62.1 L622.9 62.0 L623.6 61.9 L624.3 61.9 L625.0 62.1 L625.7 62.0 L626.4 62.4 L627.1 62.0 L627.8 62.0 L628.5 61.8 L629.2 62.3 L629.9 62.0 L630.6 62.4 L631.3 62.8 L632.0 62.6 L632.7 62.6 L633.4 62.6 L634.1 62.5 L634.8 62.6 L635.5 62.6 L636.2 63.1 L636.9 62.5 L637.6 63.5 L638.3 63.0 L639.0 62.7 L639.7 62.9 L640.4 62.8 L641.1 63.3 L641.8 63.1 L642.5 64.0 L643.2 63.2 L643.9 62.9 L644.6 63.5 L645.3 63.1 L646.0 64.0 L646.7 64.6 L647.4 64.6 L648.1 64.0 L648.8 64.4 L649.5 65.6 L650.2 65.2 L650.9 65.3 L651.6 66.0 L652.3 66.9 L653.0 66.9 L653.7 66.8 L654.4 67.2 L655.1 67.6 L655.8 67.4 L656.5 67.3 L657.2 67.7 L657.9 67.5 L658.6 68.1 L659.3 68.2 L660.0 69.2 L660.7 68.4 L661.4 68.9 L662.1 69.2 L662.8 69.8 L663.5 70.3 L665.2 70.0 L665.6 78.0 L665.8 85.6" stroke="#ff0000" stroke-width="3.2" fill="none" stroke-linecap="round" stroke-linejoin="round"/>
<path d="M234.5 79.0 L234.8 70.0 L236.0 63.0 L237.8 61.8 L239.5 65.0 L241.0 70.0 L242.5 72.0" stroke="#ff0000" stroke-width="4.2" fill="none" stroke-linecap="round" stroke-linejoin="round"/>
<path d="M242.3 70.0 L242.3 101.0" stroke="#ff0000" stroke-width="3.8" fill="none" stroke-linecap="round" stroke-linejoin="round"/>
<path d="M242.5 72.0 L243.5 67.0 L244.8 61.5 L246.5 60.6 L247.8 63.0 L248.3 72.0 L248.3 98.0" stroke="#ff0000" stroke-width="4.0" fill="none" stroke-linecap="round" stroke-linejoin="round"/>
<path d="M249.3 240.3 L251.2 256.6" stroke="#ff0000" stroke-width="3.0" fill="none" stroke-linecap="round" stroke-linejoin="round"/>
<circle cx="665.8" cy="90.3" r="1.6" fill="#ff0000"/>
<circle cx="665.8" cy="95.9" r="1.6" fill="#ff0000"/>
<circle cx="665.8" cy="100.8" r="1.6" fill="#ff0000"/>
<circle cx="665.8" cy="106.2" r="1.6" fill="#ff0000"/>
<circle cx="665.8" cy="112.7" r="1.6" fill="#ff0000"/>
<circle cx="665.8" cy="124.3" r="1.6" fill="#ff0000"/>
<circle cx="248.5" cy="101" r="1.6" fill="#ff0000"/>
<circle cx="248.5" cy="109.5" r="1.6" fill="#ff0000"/>
<circle cx="248.5" cy="120.7" r="1.6" fill="#ff0000"/>
<circle cx="248.5" cy="138.2" r="1.6" fill="#ff0000"/>
<circle cx="249" cy="174.8" r="1.6" fill="#ff0000"/>
<circle cx="249.3" cy="219.4" r="1.6" fill="#ff0000"/>
<circle cx="249.3" cy="234.5" r="1.6" fill="#ff0000"/>
</svg></body></html>
